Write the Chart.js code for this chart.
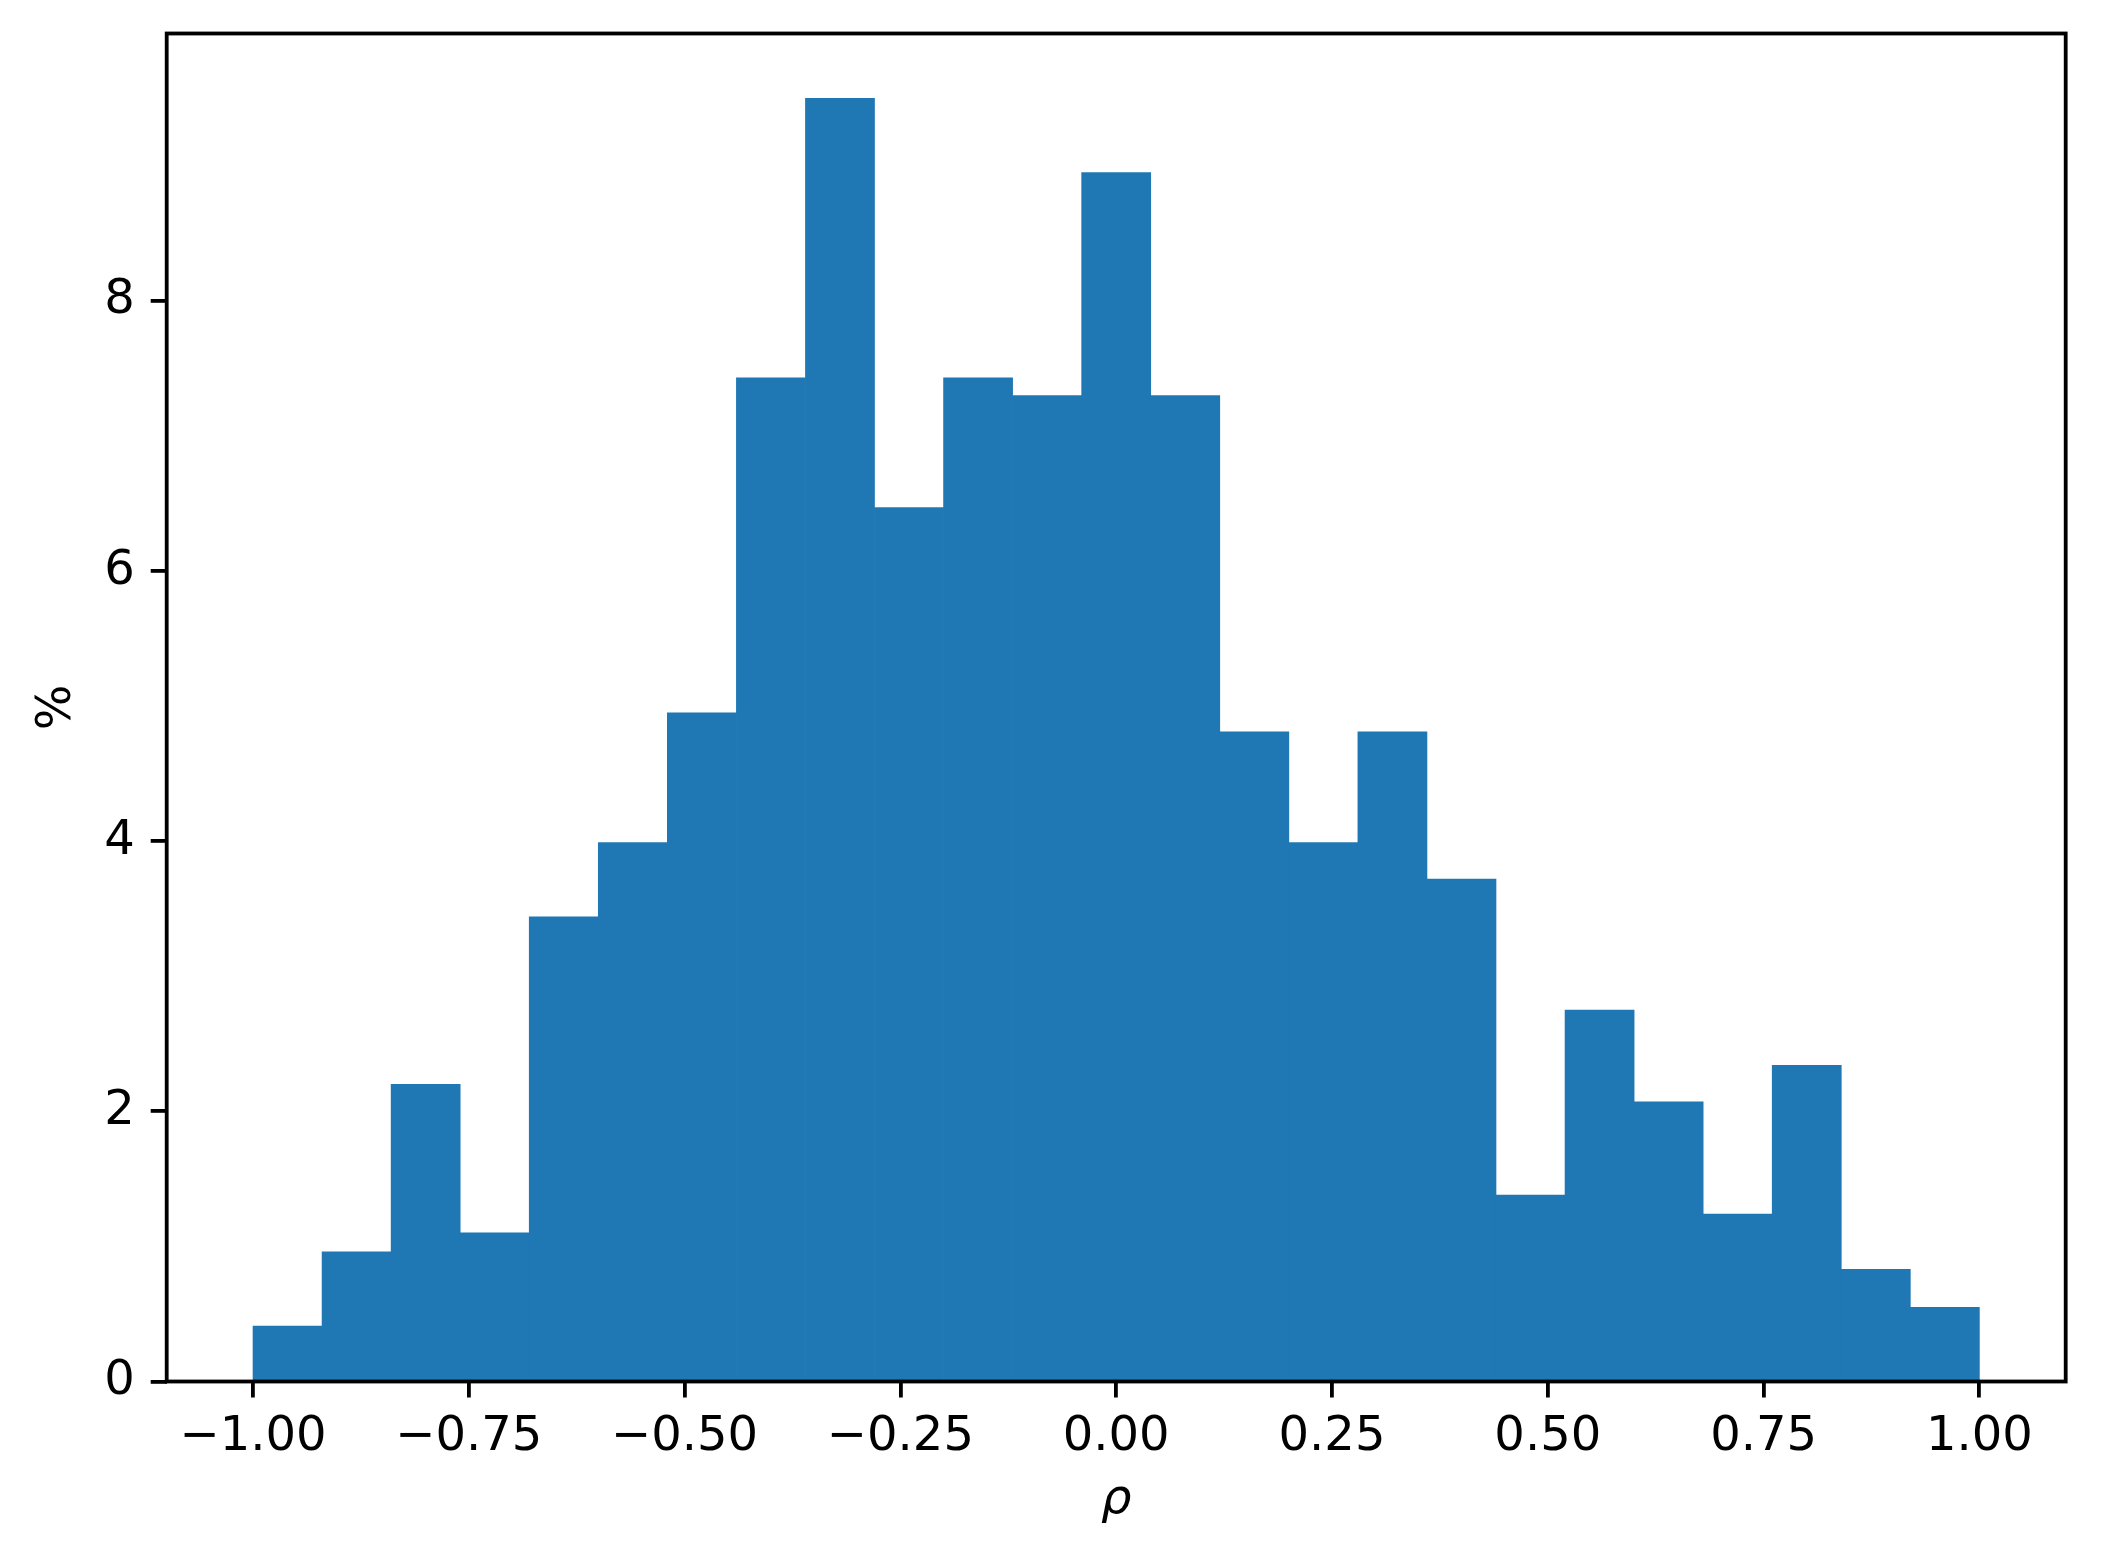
<!DOCTYPE html>
<html>
<head>
<meta charset="utf-8">
<script src="https://cdn.jsdelivr.net/npm/chart.js@4/dist/chart.umd.min.js"></script>
<style>
  html, body { margin: 0; padding: 0; background: #fff; }
  #wrap { width: 2101px; height: 1566px; }
</style>
</head>
<body>
<div id="wrap"><canvas id="hist"></canvas></div>
<script>
// histogram of rho, 25 bins of width 0.08 between -1 and 1
const binCenters = [-0.96, -0.88, -0.80, -0.72, -0.64, -0.56, -0.48, -0.40, -0.32, -0.24,
                    -0.16, -0.08, 0.00, 0.08, 0.16, 0.24, 0.32, 0.40, 0.48, 0.56,
                    0.64, 0.72, 0.80, 0.88, 0.96];
const pctValues  = [0.41, 0.96, 2.20, 1.10, 3.44, 3.99, 4.95, 7.43, 9.50, 6.47,
                    7.43, 7.30, 8.95, 7.30, 4.81, 3.99, 4.81, 3.72, 1.38, 2.75,
                    2.07, 1.24, 2.34, 0.83, 0.55];
const xTicks = [-1.00, -0.75, -0.50, -0.25, 0.00, 0.25, 0.50, 0.75, 1.00];
const yTicks = [0, 2, 4, 6, 8];

const FONT = 'DejaVu Sans';
const AXW = 3.8;

// full box around the plot, like matplotlib spines
const frameBox = {
  id: 'frameBox',
  afterDatasetsDraw(chart) {
    const { ctx, chartArea: a } = chart;
    ctx.save();
    ctx.strokeStyle = '#000';
    ctx.lineWidth = AXW;
    ctx.strokeRect(a.left, a.top, a.right - a.left, a.bottom - a.top);
    ctx.restore();
  }
};

new Chart(document.getElementById('hist').getContext('2d'), {
  type: 'bar',
  data: {
    datasets: [{
      data: binCenters.map((x, i) => ({ x, y: pctValues[i] })),
      backgroundColor: '#1f77b4',
      borderWidth: 0,
      barPercentage: 1.0,
      categoryPercentage: 1.0
    }]
  },
  options: {
    responsive: true,
    maintainAspectRatio: false,
    animation: false,
    layout: { padding: { top: 33.5, right: 35.3, left: 0, bottom: 0 } },
    plugins: { legend: { display: false }, tooltip: { enabled: false } },
    scales: {
      x: {
        type: 'linear',
        min: -1.1, max: 1.1,
        offset: false,
        afterBuildTicks: s => { s.ticks = xTicks.map(value => ({ value })); },
        afterFit: s => { s.height = 184.5; s.paddingLeft = 0; s.paddingRight = 0; },
        grid: { offset: false, drawOnChartArea: false, drawTicks: true, tickLength: 16, color: '#000', lineWidth: AXW },
        border: { display: false },
        ticks: {
          padding: 16, color: '#000', maxRotation: 0, autoSkip: false,
          font: { family: FONT, size: 48, lineHeight: 1 },
          callback: v => v.toFixed(2).replace('-', '\u2212')
        },
        title: {
          display: true, text: 'ρ', color: '#000',
          font: { family: FONT, size: 48, style: 'italic', lineHeight: 1 },
          padding: { top: 0, bottom: 41 }
        }
      },
      y: {
        min: 0, max: 9.98,
        afterBuildTicks: s => { s.ticks = yTicks.map(value => ({ value })); },
        afterFit: s => { s.width = 166.7; s.paddingTop = 0; s.paddingBottom = 0; },
        grid: { drawOnChartArea: false, drawTicks: true, tickLength: 16, color: '#000', lineWidth: AXW },
        border: { display: false },
        ticks: {
          padding: 16, color: '#000',
          font: { family: FONT, size: 48, lineHeight: 1 },
          callback: v => String(v)
        },
        title: {
          display: true, text: '%', color: '#000',
          font: { family: FONT, size: 48, lineHeight: 1 },
          padding: { top: 34, bottom: 0 }
        }
      }
    }
  },
  plugins: [frameBox]
});
</script>
</body>
</html>
